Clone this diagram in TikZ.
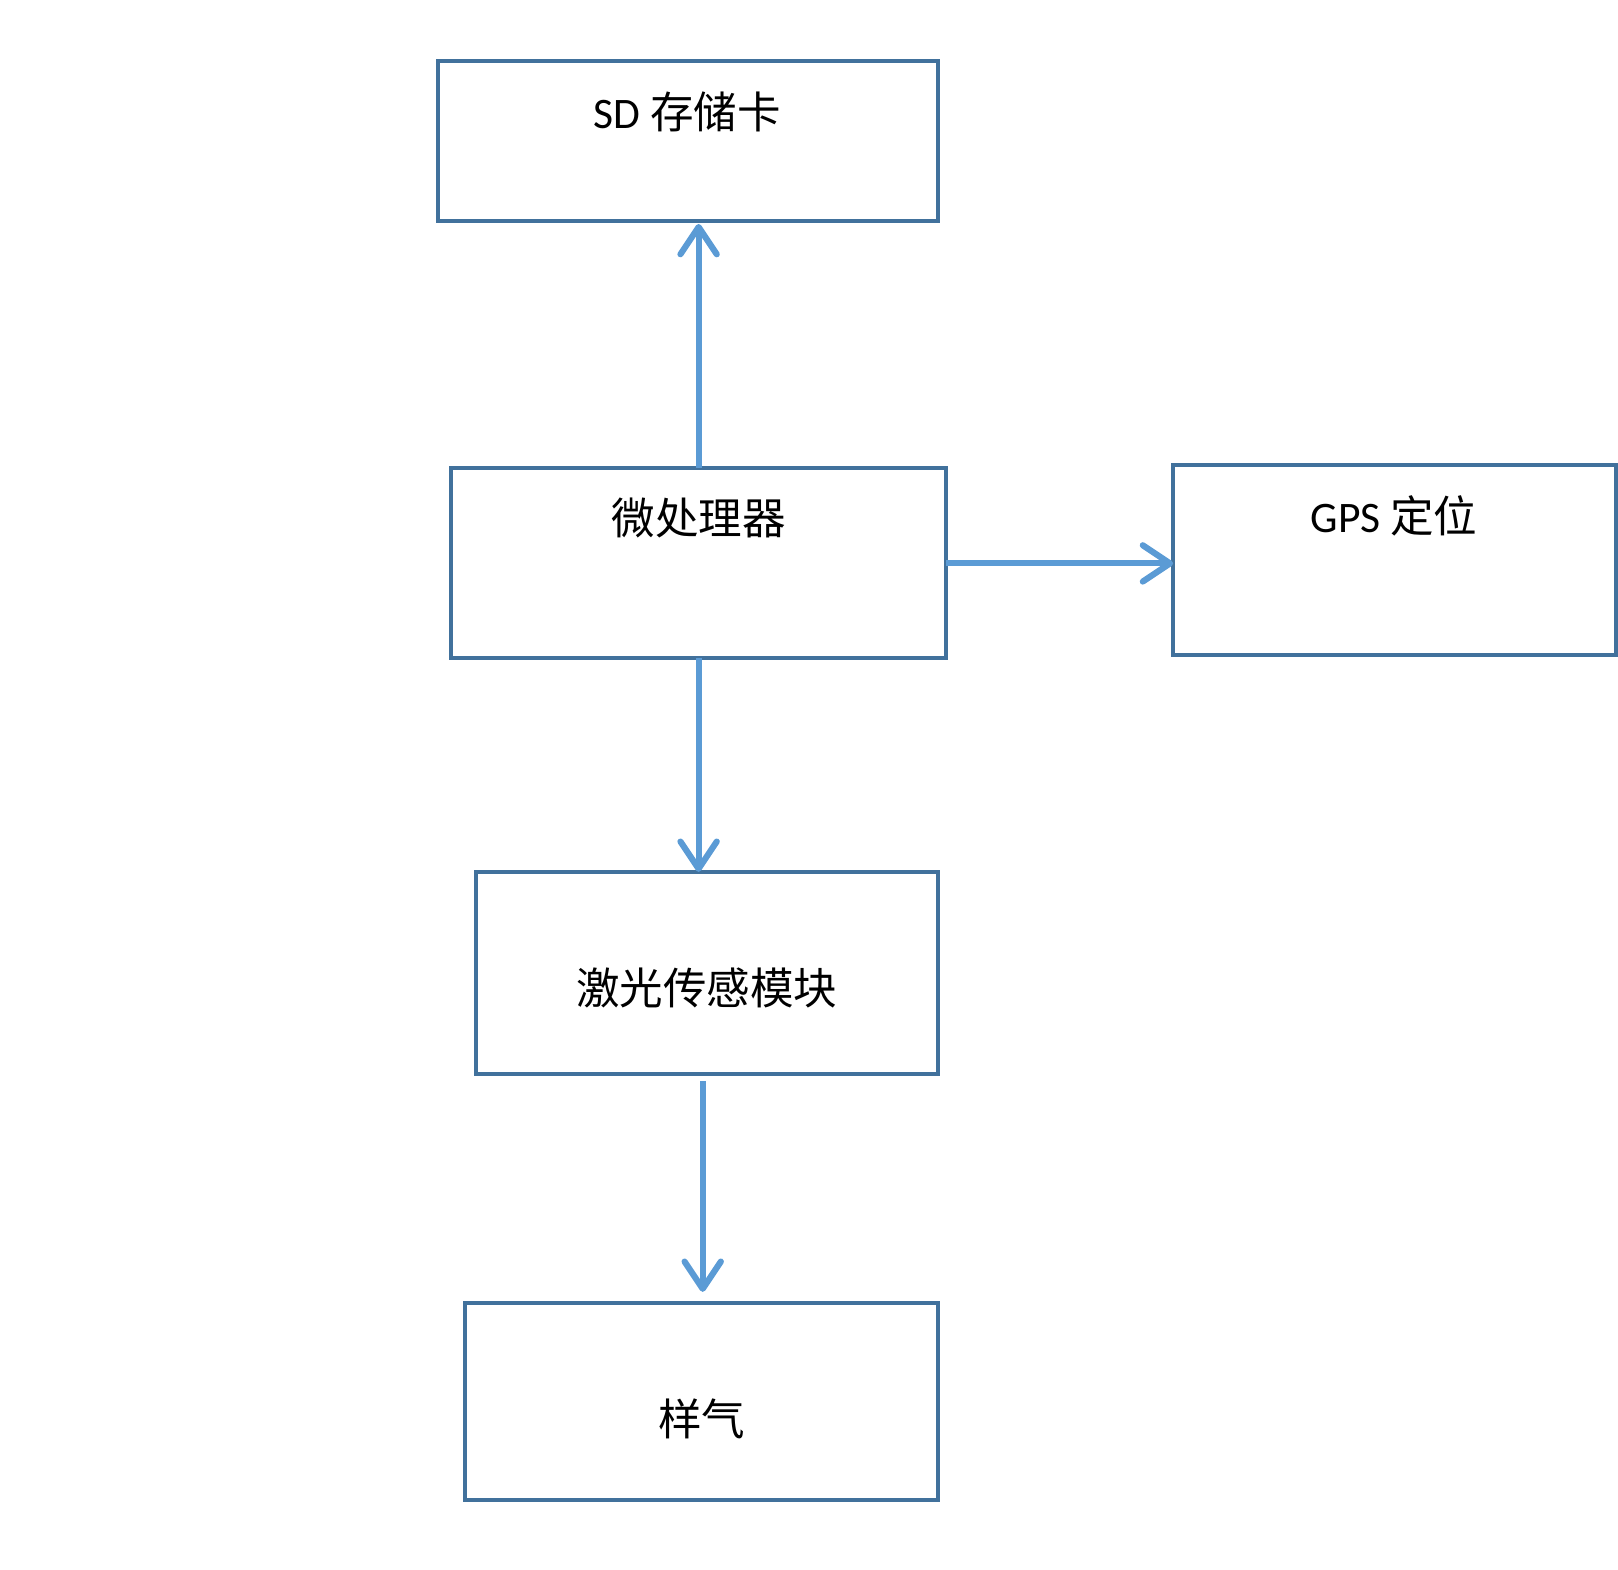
\documentclass[tikz,border=0pt]{standalone}
\usepackage{fontspec}
\setmainfont{Carlito}
\newfontfamily\cjk{Noto Sans CJK SC}
\usetikzlibrary{arrows.meta}
\definecolor{boxblue}{HTML}{41719C}
\definecolor{arrblue}{HTML}{5B9BD5}
\begin{document}
\begin{tikzpicture}[x=0.01cm,y=0.01cm,
  blk/.style={draw=boxblue,line width=1.1pt,inner sep=0pt,outer sep=0pt,fill=white},
  lbl/.style={inner sep=0pt,font=\fontsize{12}{14}\selectfont},
  arr/.style={draw=arrblue,line width=1.7pt,-{Straight Barb[length=7.5pt,width=10pt,round]}}]
\useasboundingbox (0,0) rectangle (1568,-1521);
\node[blk,minimum width=4.84cm,minimum height=1.55cm] (sd) at (667,-136.5) {};
\node[blk,minimum width=4.80cm,minimum height=1.84cm] (mcu) at (677,-546) {};
\node[blk,minimum width=4.29cm,minimum height=1.84cm] (gps) at (1351.5,-543) {};
\node[blk,minimum width=4.48cm,minimum height=1.96cm] (laser) at (685,-943) {};
\node[blk,minimum width=4.58cm,minimum height=1.91cm] (gas) at (680,-1358.5) {};
\node[lbl] (sdt) at (666,-108) {SD {\cjk 存储卡}};
\node[lbl] (mcut) at (677,-502) {\cjk 微处理器};
\node[lbl] (gpst) at (1351,-500) {GPS {\cjk 定位}};
\node[lbl] (lasert) at (685,-957) {\cjk 激光传感模块};
\node[lbl] (gast) at (680,-1375) {\cjk 样气};
\draw[arr] (mcu.north) -- ([yshift=-0.03cm]mcu.north |- sd.south);
\draw[arr] (mcu.east) -- (mcu.east -| gps.west);
\draw[arr] (mcu.south) -- (mcu.south |- laser.north);
\draw[arr] ([shift={(-4,-7)}]laser.south) -- ([shift={(1,11)}]gas.north);
\end{tikzpicture}
\end{document}
